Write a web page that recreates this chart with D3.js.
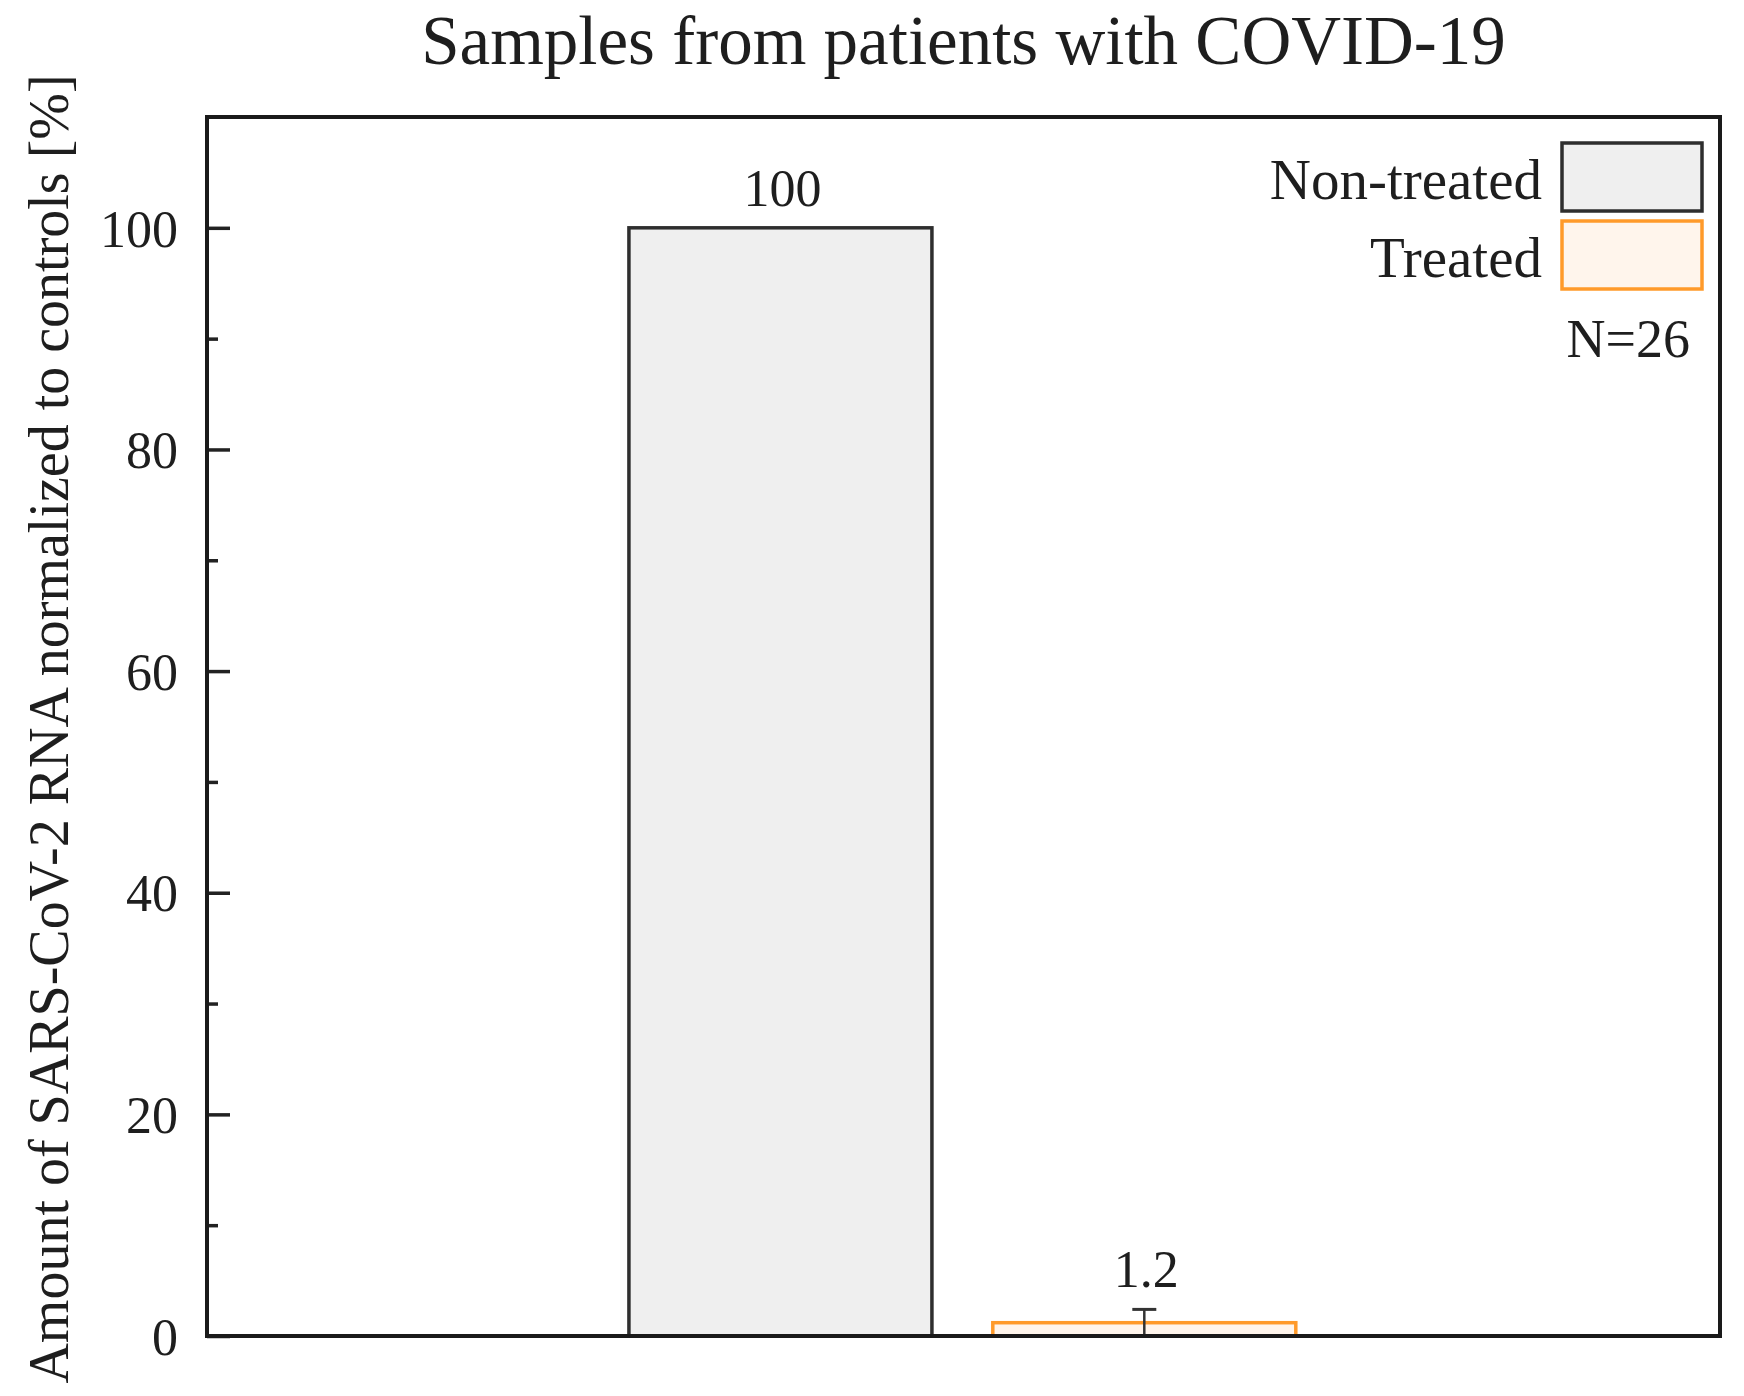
<!DOCTYPE html>
<html>
<head>
<meta charset="utf-8">
<script src="https://cdn.jsdelivr.net/npm/d3@7"></script>
<style>
  html, body { margin: 0; padding: 0; background: #fff; }
  svg { display: block; }
  text { font-family: "Liberation Serif", "Times New Roman", serif; fill: #1e1e1e; }
</style>
</head>
<body>
<svg id="chart" width="1744" height="1396"></svg>
<script>
// ---- data ----
const categories = ["Non-treated", "Treated"];
const values = [100, 1.2];
const errors = [0, 1.2];
const valueLabels = ["100", "1.2"];
const yMajorTicks = [0, 20, 40, 60, 80, 100];
const yMinorTicks = [10, 30, 50, 70, 90];
const fills = ["#efefef", "#fff5ec"];
const strokes = ["#2e2e2e", "#ff9a2a"];
const title = "Samples from patients with COVID-19";
const yTitle = "Amount of SARS-CoV-2 RNA normalized to controls [%]";
const note = "N=26";

// ---- layout ----
const W = 1744, H = 1396;
const m = { left: 207, right: 1720, top: 117, bottom: 1336 };
const pw = m.right - m.left;
const svg = d3.select("#chart");

const y = d3.scaleLinear().domain([0, 110]).range([m.bottom, m.top]);
const x = d3.scalePoint().domain(categories).range([m.left + 0.379 * pw, m.left + 0.6195 * pw]);
const barW = 303;

// bars
const g = svg.append("g");
g.selectAll("rect.bar").data(categories).join("rect")
  .attr("class", "bar")
  .attr("x", d => x(d) - barW / 2)
  .attr("width", barW)
  .attr("y", (d, i) => y(values[i]))
  .attr("height", (d, i) => y(0) - y(values[i]))
  .attr("fill", (d, i) => fills[i])
  .attr("stroke", (d, i) => strokes[i])
  .attr("stroke-width", 3.5);

// error bars (upper only)
categories.forEach((c, i) => {
  if (errors[i] > 0) {
    const cx = x(c);
    g.append("line").attr("x1", cx).attr("x2", cx)
      .attr("y1", y(0)).attr("y2", y(values[i] + errors[i]))
      .attr("stroke", "#333").attr("stroke-width", 2.5);
    g.append("line").attr("x1", cx - 12).attr("x2", cx + 12)
      .attr("y1", y(values[i] + errors[i])).attr("y2", y(values[i] + errors[i]))
      .attr("stroke", "#333").attr("stroke-width", 3);
  }
});

// value labels
g.selectAll("text.val").data(categories).join("text")
  .attr("class", "val")
  .attr("x", d => x(d) + 2)
  .attr("y", (d, i) => y(values[i] + errors[i]) - 22)
  .attr("text-anchor", "middle")
  .attr("font-size", 52)
  .text((d, i) => valueLabels[i]);

// y axis
const yAxis = d3.axisLeft(y).tickValues(yMajorTicks).tickSizeInner(-23).tickSizeOuter(0).tickPadding(29)
  .tickFormat(d3.format("d"));
const ya = svg.append("g").attr("transform", `translate(${m.left},0)`).call(yAxis);
ya.select(".domain").remove();
ya.selectAll(".tick line").attr("stroke", "#222").attr("stroke-width", 3.5);
ya.selectAll(".tick text").attr("font-size", 52).attr("font-family", "Liberation Serif, serif").attr("fill", "#1e1e1e").attr("dy", "0.35em");

const yMinor = d3.axisLeft(y).tickValues(yMinorTicks).tickSizeInner(-11).tickSizeOuter(0).tickFormat("");
const ym = svg.append("g").attr("transform", `translate(${m.left},0)`).call(yMinor);
ym.select(".domain").remove();
ym.selectAll(".tick line").attr("stroke", "#222").attr("stroke-width", 3.5);

// frame
svg.append("rect")
  .attr("x", m.left).attr("y", m.top)
  .attr("width", pw).attr("height", m.bottom - m.top)
  .attr("fill", "none").attr("stroke", "#1a1a1a").attr("stroke-width", 4);

// title
svg.append("text")
  .attr("x", (m.left + m.right) / 2).attr("y", 64)
  .attr("text-anchor", "middle").attr("font-size", 69)
  .text(title);

// y title
svg.append("text")
  .attr("transform", `translate(68,${729}) rotate(-90)`)
  .attr("text-anchor", "middle").attr("font-size", 56)
  .text(yTitle);

// legend
const lg = svg.append("g");
const boxX = 1562, boxW = 140, boxH = 68;
const boxY = [143, 221];
categories.forEach((c, i) => {
  lg.append("rect").attr("x", boxX).attr("y", boxY[i]).attr("width", boxW).attr("height", boxH)
    .attr("fill", fills[i]).attr("stroke", strokes[i]).attr("stroke-width", 3.5);
  lg.append("text").attr("x", boxX - 20).attr("y", boxY[i] + 56)
    .attr("text-anchor", "end").attr("font-size", 57).text(c);
});
lg.append("text").attr("x", 1690).attr("y", 357).attr("text-anchor", "end").attr("font-size", 54).text(note);
</script>
</body>
</html>
